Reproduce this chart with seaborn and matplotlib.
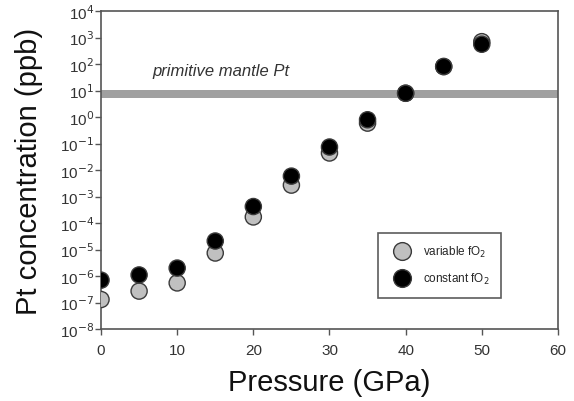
import numpy as np
import pandas as pd
import matplotlib
matplotlib.use("Agg")
import matplotlib.pyplot as plt
import seaborn as sns

pressure = [0, 5, 10, 15, 20, 25, 30, 35, 40, 45, 50]
variable_fo2 = [1.3e-7, 2.7e-7, 5.5e-7, 7.4e-6, 1.7e-4, 2.7e-3, 4.4e-2, 0.59, 7.9, 80, 700]
constant_fo2 = [7.0e-7, 1.1e-6, 2.0e-6, 2.1e-5, 4.2e-4, 5.9e-3, 7.4e-2, 0.79, 7.9, 81, 560]
series_labels = ["variable fO$_2$", "constant fO$_2$"]
mantle_band = (5.2, 10.3)
mantle_label = "primitive mantle Pt"
x_ticks = [0, 10, 20, 30, 40, 50, 60]
y_exps = list(range(-8, 5))

df = pd.DataFrame({
    "Pressure": pressure * 2,
    "Pt": variable_fo2 + constant_fo2,
    "series": [series_labels[0]] * len(pressure) + [series_labels[1]] * len(pressure),
})

sns.set_theme(style="ticks")
plt.rcParams["font.family"] = ["Liberation Sans", "DejaVu Sans"]

fig = plt.figure(figsize=(5.74, 4.02), dpi=100)
ax = fig.add_axes([0.176, 0.179, 0.796, 0.791])

ax.axhspan(mantle_band[0], mantle_band[1], color="#a0a0a0", lw=0, zorder=1)

sns.scatterplot(data=df, x="Pressure", y="Pt", hue="series",
                palette={series_labels[0]: "#c0c0c0", series_labels[1]: "#000000"},
                s=135, edgecolor="#3a3a3a", linewidth=1.0, ax=ax, zorder=3, legend=True)

ax.set_yscale("log")
ax.set_xlim(0, 60)
ax.set_ylim(1e-8, 1e4)
ax.set_xticks(x_ticks)
ax.set_xticklabels([str(t) for t in x_ticks])
ax.set_yticks([10.0 ** e for e in y_exps])
ax.set_yticklabels([f"10$^{{{e}}}$" for e in y_exps])
ax.yaxis.set_minor_locator(matplotlib.ticker.NullLocator())
ax.tick_params(axis="both", labelsize=11, labelcolor="#333333", color="#555555",
               length=4, width=1.0, direction="out")
ax.tick_params(axis="x", pad=6)
ax.tick_params(axis="y", pad=1)
for sp in ax.spines.values():
    sp.set_color("#555555")
    sp.set_linewidth(1.2)

ax.set_xlabel("Pressure (GPa)", fontsize=21, color="#111111", labelpad=8)
ax.set_ylabel("Pt concentration (ppb)", fontsize=21, color="#111111", labelpad=12)

ax.text(6.8, 55, mantle_label, style="italic", fontsize=12, color="#333333",
        va="center", ha="left")

handles, labels = ax.get_legend_handles_labels()
leg = ax.legend(handles, labels, loc="lower left", bbox_to_anchor=(0.606, 0.097),
                borderaxespad=0.0,
                fontsize=8.5, frameon=True, fancybox=False, edgecolor="#333333",
                borderpad=1.0, labelspacing=1.0, handletextpad=0.8, markerscale=1.1)
leg.get_frame().set_linewidth(1.2)

fig.savefig("out.png", dpi=100)
